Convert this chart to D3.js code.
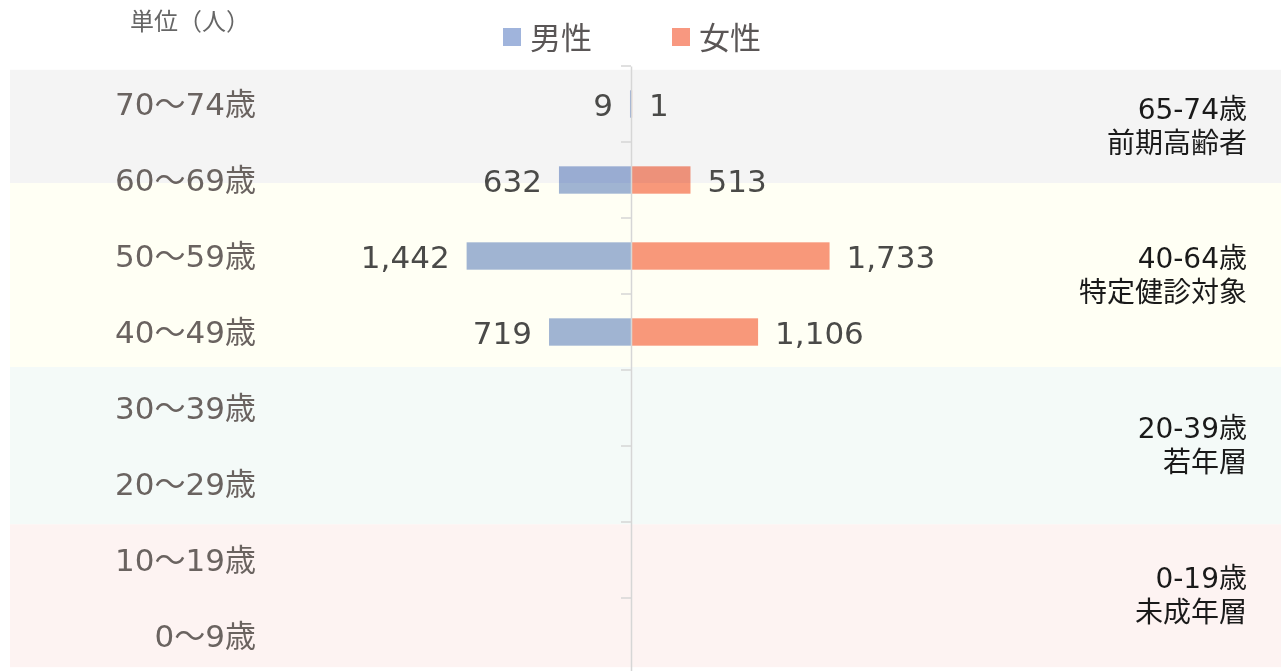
<!DOCTYPE html>
<html>
<head>
<meta charset="utf-8">
<script src="https://cdn.jsdelivr.net/npm/d3@7"></script>
<style>
  body { margin: 0; background: #fff; }
  svg text { font-family: "DejaVu Sans", "Noto Sans CJK JP", sans-serif; }
</style>
</head>
<body>
<div id="mainbox"></div>
<script>
// age groups, top to bottom
const ages = ['70～74歳', '60～69歳', '50～59歳', '40～49歳', '30～39歳', '20～29歳', '10～19歳', '0～9歳'];
const male = [9, 632, 1442, 719, null, null, null, null];
const female = [1, 513, 1733, 1106, null, null, null, null];

// background bands (in age-row units) and their labels
const bandRange = [[0.05, 1.54], [1.54, 3.96], [3.96, 6.03], [6.03, 7.91]];
const bandAge = ['65-74歳', '40-64歳', '20-39歳', '0-19歳'];
const bandName = ['前期高齢者', '特定健診対象', '若年層', '未成年層'];
const bandColor = ['#f4f4f4', '#fffff4', '#f4faf8', '#fdf3f2'];

const seriesName = ['男性', '女性'];
const seriesColor = ['#a0b4dc', '#f89880'];

const W = 1285, H = 671;
const cx = 631;

const svg = d3.select('#mainbox').append('svg')
  .attr('width', W).attr('height', H);

const y = d3.scaleBand().domain(ages).range([66, 674]).padding(0);
const yRow = d3.scaleLinear().domain([0, ages.length]).range([66, 674]);
const x = d3.scaleLinear().domain([-2000, 2000]).range([cx - 228, cx + 228]);
const fmt = d3.format(',');

// bands
const bands = svg.append('g');
bands.selectAll('rect').data(bandRange).join('rect')
  .attr('x', 10).attr('width', 1271)
  .attr('y', d => yRow(d[0]))
  .attr('height', d => yRow(d[1]) - yRow(d[0]))
  .attr('fill', (d, i) => bandColor[i]);

// band labels
const bl = svg.append('g').attr('text-anchor', 'end')
  .attr('font-size', 28).attr('fill', '#1a1a1a');
bandRange.forEach((d, i) => {
  const mid = (yRow(d[0]) + yRow(d[1])) / 2;
  bl.append('text').attr('x', 1247).attr('y', mid - 17)
    .attr('dominant-baseline', 'central').text(bandAge[i]);
  bl.append('text').attr('x', 1247).attr('y', mid + 17)
    .attr('dominant-baseline', 'central').text(bandName[i]);
});

// category labels
svg.append('g').selectAll('text').data(ages).join('text')
  .attr('x', 256).attr('y', d => y(d) + y.bandwidth() / 2)
  .attr('text-anchor', 'end').attr('dominant-baseline', 'central')
  .attr('font-size', 31).attr('fill', '#6a6360')
  .text(d => d);

// bars
const bh = y.bandwidth() * 0.36;
const rows = ages.map((a, i) => ({a, m: male[i], f: female[i]})).filter(d => d.m != null);
const barG = svg.append('g').style('mix-blend-mode', 'multiply');
barG.selectAll('.bar-m').data(rows).join('rect')
  .attr('class', 'bar-m')
  .attr('x', d => x(-d.m)).attr('width', d => x(0) - x(-d.m))
  .attr('y', d => y(d.a) + (y.bandwidth() - bh) / 2).attr('height', bh)
  .attr('fill', seriesColor[0]);
barG.selectAll('.bar-f').data(rows).join('rect')
  .attr('class', 'bar-f')
  .attr('x', x(0) + 1).attr('width', d => x(d.f) - x(0))
  .attr('y', d => y(d.a) + (y.bandwidth() - bh) / 2).attr('height', bh)
  .attr('fill', seriesColor[1]);

// axis (on top of the bars)
const axis = d3.axisLeft(y).tickSize(10).tickFormat('').tickSizeOuter(0);
const axisG = svg.append('g').attr('transform', `translate(${cx},0)`).call(axis);
axisG.selectAll('.tick').attr('transform', d => `translate(0,${y(d)})`);
axisG.select('.domain').attr('stroke', '#d6d6d6').attr('stroke-width', 1.5);
axisG.selectAll('.tick line').attr('stroke', '#d6d6d6').attr('stroke-width', 1.5);

// value labels
const vl = svg.append('g').attr('font-size', 31).attr('fill', '#4a4a48')
  .attr('dominant-baseline', 'central');
vl.selectAll('.lab-m').data(rows).join('text')
  .attr('x', d => x(-d.m) - 17).attr('y', d => y(d.a) + y.bandwidth() / 2 + 1)
  .attr('text-anchor', 'end').text(d => fmt(d.m));
vl.selectAll('.lab-f').data(rows).join('text')
  .attr('x', d => x(d.f) + 18).attr('y', d => y(d.a) + y.bandwidth() / 2 + 1)
  .attr('text-anchor', 'start').text(d => fmt(d.f));

// legend
const lg = svg.append('g');
const legX = [503, 672];
seriesName.forEach((s, i) => {
  lg.append('rect').attr('x', legX[i]).attr('y', 28).attr('width', 18).attr('height', 18)
    .attr('fill', seriesColor[i]);
  lg.append('text').attr('x', legX[i] + 27).attr('y', 38)
    .attr('dominant-baseline', 'central').attr('font-size', 31).attr('fill', '#5a5656')
    .text(s);
});

// unit
svg.append('text').attr('x', 130).attr('y', 22).attr('dominant-baseline', 'central')
  .attr('font-size', 24).attr('fill', '#666').text('単位（人）');
</script>
</body>
</html>
